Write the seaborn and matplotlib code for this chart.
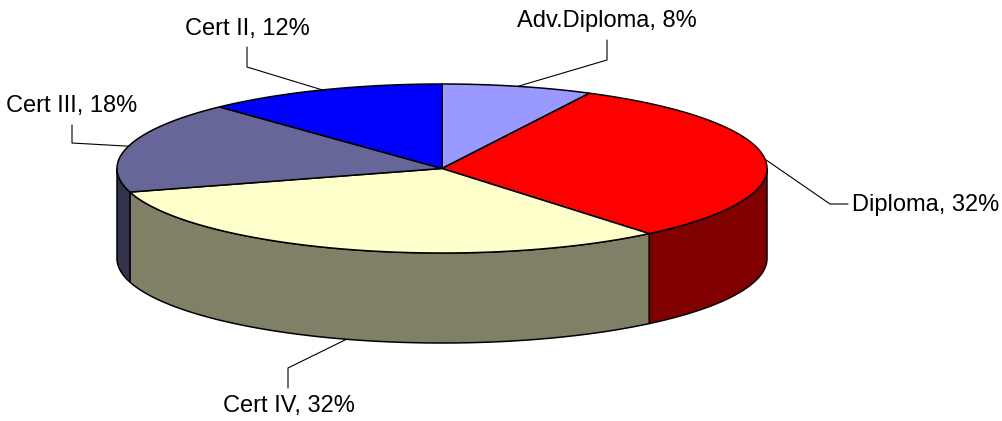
import numpy as np
import matplotlib
matplotlib.use("Agg")
import matplotlib.pyplot as plt
from matplotlib.patches import Polygon
import seaborn as sns

# ---- data ----
categories = ["Adv.Diploma", "Diploma", "Cert IV", "Cert III", "Cert II"]
values = [7.5, 31.5, 31.5, 17.5, 12.0]
top_colors = ["#9999FF", "#FF0000", "#FFFFCC", "#666699", "#0000FF"]
side_colors = ["#4D4D80", "#800000", "#808066", "#33334D", "#000080"]

# ---- layout ----
CX, CY = 442.0, 168.5      # ellipse centre (pixels)
RA, RB = 325.0, 84.5       # horizontal / vertical radius
DEPTH = 90.0
# text anchor (x, y, ha) and elbow point for each label
label_pos = {
    "Adv.Diploma": dict(text=(607, 21, "center"), elbow=[(607, 40), (607, 60)]),
    "Diploma": dict(text=(852, 205, "left"), elbow=[(848, 204), (830, 204)]),
    "Cert IV": dict(text=(289, 406, "center"), elbow=[(288, 388), (288, 368)]),
    "Cert III": dict(text=(72, 106, "center"), elbow=[(72, 125), (72, 143)]),
    "Cert II": dict(text=(247, 29, "center"), elbow=[(247, 47), (247, 67)]),
}

sns.set_theme(style="white")
plt.rcParams["font.family"] = ["Liberation Sans", "DejaVu Sans"]

fig = plt.figure(figsize=(10.02, 4.21), dpi=100)
ax = fig.add_axes([0, 0, 1, 1])
ax.set_xlim(0, 1002)
ax.set_ylim(421, 0)
ax.axis("off")


def pt(t_deg, dz=0.0):
    t = np.radians(t_deg)
    return CX + RA * np.cos(t), CY - RB * np.sin(t) + dz


def arc(t1, t2, dz=0.0, n=200):
    ts = np.linspace(t1, t2, n)
    return [pt(t, dz) for t in ts]


total = sum(values)
angles = []
start = 90.0
for v in values:
    sweep = 360.0 * v / total
    angles.append((start, start - sweep))
    start -= sweep

# ---- side walls (front half only) ----
for (t0, t1), sc in zip(angles, side_colors):
    lo, hi = t1, t0
    for k in range(-2, 2):
        a, b = -180 + 360 * k, 0 + 360 * k
        s, e = max(lo, a), min(hi, b)
        if e > s:
            top = arc(s, e)
            bot = arc(e, s, DEPTH)
            ax.add_patch(Polygon(top + bot, closed=True, facecolor=sc,
                                 edgecolor="black", lw=1.1, zorder=1))

# ---- top faces ----
for (t0, t1), tc in zip(angles, top_colors):
    poly = [(CX, CY)] + arc(t0, t1)
    ax.add_patch(Polygon(poly, closed=True, facecolor=tc,
                         edgecolor="black", lw=1.1, zorder=2))

# ---- labels with leader lines ----
for cat, v, (t0, t1) in zip(categories, values, angles):
    mid = (t0 + t1) / 2.0
    dz = DEPTH if np.sin(np.radians(mid)) < 0 else 0.0
    ax_, ay_ = pt(mid, dz)
    lp = label_pos[cat]
    (ex1, ey1), (ex2, ey2) = lp["elbow"]
    ax.plot([ax_, ex2, ex1], [ay_, ey2, ey1], color="black", lw=0.8, zorder=3)
    tx, ty, ha = lp["text"]
    ax.text(tx, ty, f"{cat}, {int(v + 0.5)}%", ha=ha, va="center",
            fontsize=17, color="black", zorder=4)

fig.savefig("out.png", dpi=100, facecolor="white")
